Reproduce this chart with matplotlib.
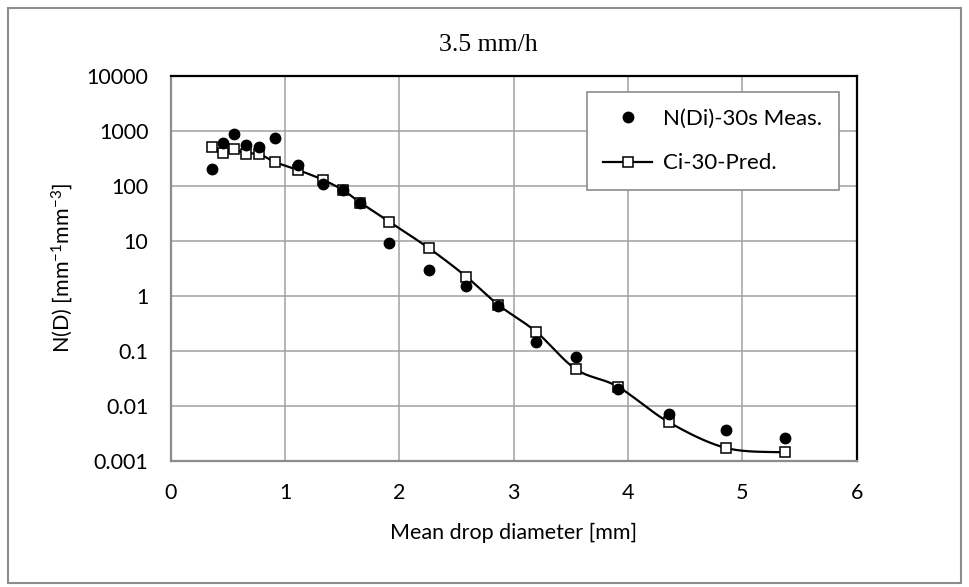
import numpy as np
import matplotlib
matplotlib.use("Agg")
import matplotlib.pyplot as plt
from matplotlib.patches import Rectangle

plt.rcParams["mathtext.fontset"] = "custom"
plt.rcParams["mathtext.rm"] = "Lato"
plt.rcParams["mathtext.it"] = "Lato:italic"
plt.rcParams["mathtext.bf"] = "Lato:bold"

# Data
title = "3.5 mm/h"
meas_d = [0.36, 0.455, 0.55, 0.655, 0.77, 0.91, 1.115, 1.33, 1.505, 1.66, 1.91, 2.26,
          2.585, 2.865, 3.195, 3.545, 3.91, 4.355, 4.86, 5.375]
meas_n = [201, 614, 881, 549, 519, 736, 238, 107, 83, 50, 9.1, 2.95,
          1.55, 0.67, 0.148, 0.077, 0.0204, 0.0072, 0.0036, 0.00265]
pred_d = [0.36, 0.455, 0.55, 0.655, 0.77, 0.91, 1.115, 1.33, 1.505, 1.66, 1.91, 2.26,
          2.585, 2.865, 3.195, 3.545, 3.91, 4.355, 4.86, 5.375]
pred_n = [519, 393, 465, 387, 385, 273, 195, 130, 84.5, 49.8, 22.5, 7.36,
          2.25, 0.69, 0.225, 0.0465, 0.0225, 0.0051, 0.00172, 0.00144]
x_ticks = [0, 1, 2, 3, 4, 5, 6]
y_ticks = [0.001, 0.01, 0.1, 1, 10, 100, 1000, 10000]
y_ticklabels = ["0.001", "0.01", "0.1", "1", "10", "100", "1000", "10000"]
label_meas = "N(Di)-30s Meas."
label_pred = "Ci-30-Pred."
xlabel = "Mean drop diameter [mm]"
ylabel = r"N(D) [mm$^{\mathrm{-1}}$mm$^{\mathrm{-3}}$]"


def smooth(xs, ys, n=20):
    # Excel-like smoothed line (cubic Bezier / Catmull-Rom) in x / log10(y) space
    x = np.asarray(xs, float)
    y = np.log10(np.asarray(ys, float))
    px = np.concatenate([[x[0]], x, [x[-1]]])
    py = np.concatenate([[y[0]], y, [y[-1]]])
    ox, oy = [], []
    t = np.linspace(0, 1, n, endpoint=False)
    for i in range(1, len(px) - 2):
        p0, p1, p2, p3 = (np.array([px[j], py[j]]) for j in (i - 1, i, i + 1, i + 2))
        c1 = p1 + (p2 - p0) / 6
        c2 = p2 - (p3 - p1) / 6
        pts = ((1 - t) ** 3)[:, None] * p1 + (3 * (1 - t) ** 2 * t)[:, None] * c1 + \
              (3 * (1 - t) * t ** 2)[:, None] * c2 + (t ** 3)[:, None] * p2
        ox.extend(pts[:, 0]); oy.extend(pts[:, 1])
    ox.append(x[-1]); oy.append(y[-1])
    return np.array(ox), 10 ** np.array(oy)


tick_font = "Lato"
fs = 15.5
fig = plt.figure(figsize=(9.69, 5.87), dpi=100)
fig.patches.append(Rectangle((8 / 969, 4 / 587), 953 / 969, 575 / 587, transform=fig.transFigure,
                             fill=False, edgecolor="#8c8c8c", linewidth=1.5))

ax = fig.add_axes([170.7 / 969, (587 - 461) / 587, 686 / 969, 385 / 587])
ax.set_yscale("log")
ax.set_xlim(0, 6)
ax.set_ylim(0.001, 10000)
ax.set_xticks(x_ticks)
ax.set_xticklabels([str(v) for v in x_ticks], fontname=tick_font, fontsize=fs)
ax.set_yticks(y_ticks)
ax.set_yticklabels(y_ticklabels, fontname=tick_font, fontsize=fs)
ax.minorticks_off()
ax.tick_params(axis="y", length=0, pad=16)
ax.tick_params(axis="x", length=0, pad=16)
ax.grid(True, color="#a0a0a0", linewidth=1.1)
ax.set_axisbelow(True)
for s in ("top", "right"):
    ax.spines[s].set_color("black")
    ax.spines[s].set_linewidth(1.6)
for s in ("left", "bottom"):
    ax.spines[s].set_color("#8c8c8c")
    ax.spines[s].set_linewidth(1.6)

sx, sy = smooth(pred_d, pred_n)
ax.plot(sx, sy, color="black", linewidth=1.6, zorder=3)
ax.plot(pred_d, pred_n, linestyle="none", marker="s", markersize=6.5,
        markerfacecolor="white", markeredgecolor="black", markeredgewidth=1.1, zorder=4)
ax.plot(meas_d, meas_n, linestyle="none", marker="o", markersize=7.5,
        color="black", zorder=5)

h1 = plt.Line2D([], [], linestyle="none", marker="o", markersize=7.5, color="black")
h2 = plt.Line2D([], [], color="black", linewidth=1.6, marker="s", markersize=6.5,
                markerfacecolor="white", markeredgecolor="black", markeredgewidth=1.1)
leg = ax.legend([h1, h2], [label_meas, label_pred], loc="upper right",
                bbox_to_anchor=(839 / 969, (587 - 91.7) / 587), bbox_transform=fig.transFigure,
                borderaxespad=0,
                prop={"family": tick_font, "size": 16}, frameon=True, fancybox=False,
                edgecolor="#8c8c8c", framealpha=1, borderpad=0.75, labelspacing=1.13,
                handlelength=2.2, handletextpad=0.5)
leg.get_frame().set_linewidth(1.2)

fig.text(488 / 969, 1 - 45 / 587, title, ha="center", va="center",
         fontname="Liberation Serif", fontsize=18.5)
fig.text(513.7 / 969, 1 - 533 / 587, xlabel, ha="center", va="center",
         fontname=tick_font, fontsize=fs)
fig.text(62 / 969, 1 - 268 / 587, ylabel, ha="center", va="center", rotation=90,
         fontname=tick_font, fontsize=fs)

fig.savefig("out.png", dpi=100)
